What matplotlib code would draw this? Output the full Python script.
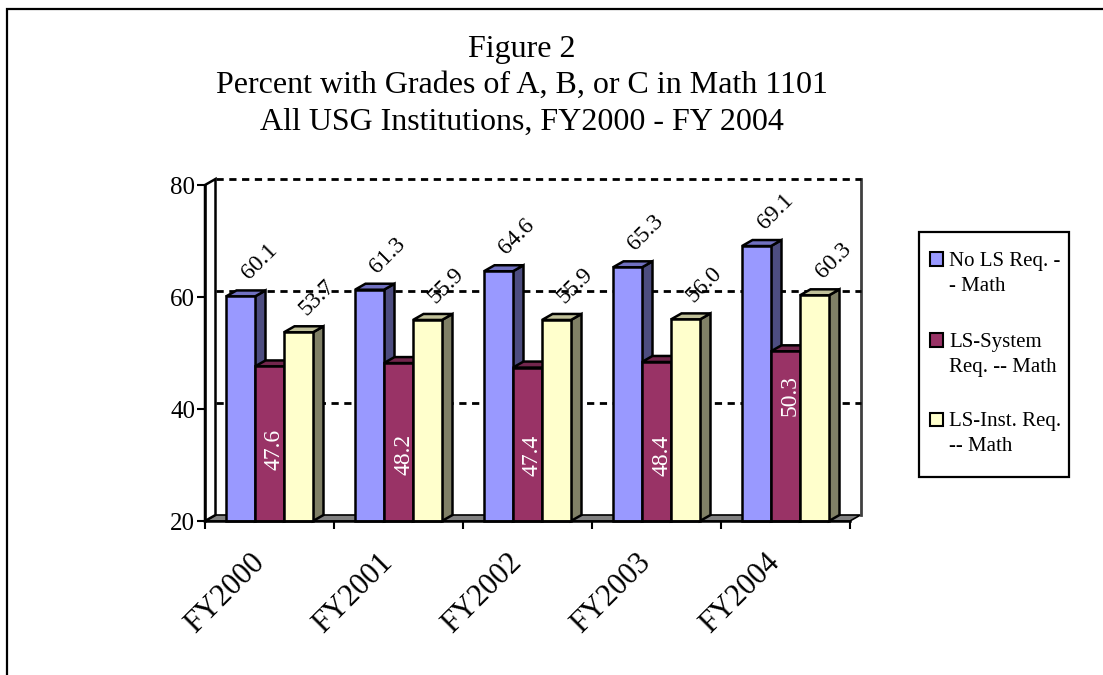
import matplotlib
matplotlib.use('Agg')
import matplotlib.pyplot as plt
from matplotlib.patches import Rectangle, Polygon
import matplotlib.transforms as mtransforms
import numpy as np

categories = ['FY2000', 'FY2001', 'FY2002', 'FY2003', 'FY2004']
series_names = ['No LS Req. -\n- Math', 'LS-System\nReq. -- Math', 'LS-Inst. Req.\n-- Math']
no_ls = [60.1, 61.3, 64.6, 65.3, 69.1]
ls_system = [47.6, 48.2, 47.4, 48.4, 50.3]
ls_inst = [53.7, 55.9, 55.9, 56.0, 60.3]
title_lines = ['Figure 2',
               'Percent with Grades of A, B, or C in Math 1101',
               'All USG Institutions, FY2000 - FY 2004']

# where excel dropped the white labels on the middle series
red_label_at = [32.7, 31.8, 31.8, 31.8, 42.5]

W, H = 1103, 675
plt.rcParams['font.family'] = ['Liberation Serif', 'DejaVu Serif']

fig = plt.figure(figsize=(W / 100, H / 100), dpi=100)

# outer frame (only top and left edges fall inside the picture)
fig.patches.append(Rectangle((7 / W, -0.1), 1.2, 1 - 9 / H + 0.1, transform=fig.transFigure,
                             fill=False, edgecolor='black', linewidth=1.6))

for k, line in enumerate(title_lines):
    fig.text(522 / W, 1 - [56.7, 92.5, 130][k] / H, line, ha='center', va='baseline', fontsize=23)

x0p, x1p, y0p, y1p = 205, 850, 521, 185
ax = fig.add_axes([x0p / W, 1 - y0p / H, (x1p - x0p) / W, (y0p - y1p) / H])
ax.set_xlim(0, 5)
ax.set_ylim(20, 80)
ax.patch.set_visible(False)

pxx = (x1p - x0p) / 5.0
pxy = (y0p - y1p) / 60.0
ddx = 10.5 / pxx
ddy = 6.0 / pxy

# floor, side wall, back wall
ax.add_patch(Polygon([(0, 20), (5, 20), (5 + ddx, 20 + ddy), (ddx, 20 + ddy)], closed=True,
                     facecolor='#808080', edgecolor='black', linewidth=1.2, clip_on=False, zorder=1))
ax.add_patch(Polygon([(0, 20), (ddx, 20 + ddy), (ddx, 80 + ddy), (0, 80)], closed=True,
                     facecolor='white', edgecolor='black', linewidth=1.8, clip_on=False, zorder=1))
ax.plot([5 + ddx, 5 + ddx], [20 + ddy, 80 + ddy], color='#404040', lw=2, clip_on=False, zorder=1)
for g in [40, 60, 80]:
    ax.plot([ddx, 5 + ddx], [g + ddy, g + ddy], color='black', lw=2.0,
            linestyle=(0, (2.6, 2.0)), clip_on=False, zorder=1)

w = 29.0 / pxx
faces = [('#9999FF', '#4D4D80', '#7070C0'),
         ('#993366', '#4D1A33', '#73264D'),
         ('#FFFFCC', '#808066', '#C0C099')]
series = [no_ls, ls_system, ls_inst]

for j, vals in enumerate(series):
    front, side, top = faces[j]
    for i, v in enumerate(vals):
        xa = i + 0.5 + (j - 1) * w - w / 2
        xb = xa + w
        z = 2 + j
        ax.add_patch(Polygon([(xb, 20), (xb + ddx, 20 + ddy), (xb + ddx, v + ddy), (xb, v)],
                             closed=True, facecolor=side, edgecolor='black', lw=1.8, zorder=z, clip_on=False))
        ax.add_patch(Polygon([(xa, v), (xb, v), (xb + ddx, v + ddy), (xa + ddx, v + ddy)],
                             closed=True, facecolor=top, edgecolor='black', lw=1.8, zorder=z, clip_on=False))
        ax.add_patch(Rectangle((xa, 20), w, v - 20, facecolor=front, edgecolor='black',
                               lw=1.8, zorder=z, clip_on=False))
        xc = (xa + xb) / 2
        if j == 1:
            tr = mtransforms.offset_copy(ax.transData, fig=fig, x=5, y=0, units='dots')
            ax.text(xc, red_label_at[i], f'{v:.1f}', rotation=90, color='white', fontsize=17,
                    ha='center', va='center', transform=tr, zorder=10)
        else:
            tr = mtransforms.offset_copy(ax.transData, fig=fig, x=8, y=16, units='dots')
            ax.text(xc, v, f'{v:.1f}', rotation=45, rotation_mode='anchor', fontsize=17,
                    ha='left', va='baseline', transform=tr, zorder=10)

for s in ['top', 'right']:
    ax.spines[s].set_visible(False)
ax.spines['left'].set_linewidth(1.8)
ax.spines['bottom'].set_linewidth(1.8)
ax.spines['left'].set_zorder(8)
ax.spines['bottom'].set_zorder(8)
ax.set_yticks([20, 40, 60, 80])
ax.tick_params(axis='y', length=6, width=1.5, labelsize=18, pad=1)
ax.set_xticks(range(6))
ax.set_xticklabels([])
ax.tick_params(axis='x', which='major', length=6, width=1.5)

for i, c in enumerate(categories):
    tr = mtransforms.offset_copy(ax.transData, fig=fig, x=-20, y=-27, units='dots')
    ax.text(i + 0.5, 20, c, rotation=45, rotation_mode='anchor', ha='right', va='top',
            fontsize=22, transform=tr)

# legend box
fig.patches.append(Rectangle((919 / W, 1 - 477 / H), 150 / W, 245 / H, transform=fig.transFigure,
                             facecolor='white', edgecolor='black', linewidth=1.6))
for k, name in enumerate(series_names):
    yc = [259, 340, 419][k]
    fig.patches.append(Rectangle((930 / W, 1 - (yc + 6.5) / H), 13 / W, 13 / H,
                                 transform=fig.transFigure, facecolor=faces[k][0],
                                 edgecolor='black', linewidth=1.5))
    fig.text(949 / W, 1 - (yc - 7) / H, name, ha='left', va='top', fontsize=15, linespacing=1.45)

fig.savefig('out.png', dpi=100)
